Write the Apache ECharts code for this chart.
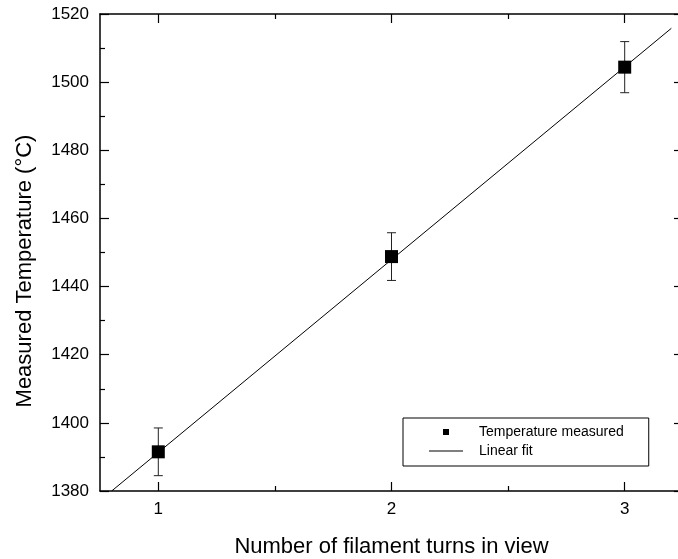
<!DOCTYPE html>
<html>
<head>
<meta charset="utf-8">
<script src="https://cdn.jsdelivr.net/npm/echarts@6/dist/echarts.min.js"></script>
<style>
  html, body { margin: 0; padding: 0; background: #fff; }
  #chart { width: 678px; height: 559px; }
</style>
</head>
<body>
<div id="chart"></div>
<script>
// data
const turns = [1, 2, 3];
const tempMeasured = [1391.5, 1448.8, 1504.4];
const tempError = [7, 7, 7.5];
const fitX = [0.8, 3.2];
const fitY = [1380, 1515.8];
const xMajorTicks = [1, 2, 3];
const xMinorTicks = [1.5, 2.5];

const font = "'Liberation Sans', Arial, sans-serif";

const chart = echarts.init(document.getElementById('chart'));

const tickLine = { color: '#000', width: 1.2 };

// x axis: main one carries labels + name, others just ticks (top side / minor)
function xAx(pos, ticks, len, withLine, withLabel) {
  return {
    type: 'value',
    position: pos,
    min: 0.75,
    max: 3.25,
    axisLine: { show: withLine, lineStyle: { color: '#000', width: 1.5 } },
    axisTick: { show: true, inside: true, length: len, customValues: ticks, lineStyle: tickLine },
    axisLabel: withLabel
      ? { customValues: ticks, color: '#000', fontSize: 17, fontFamily: font, margin: 10 }
      : { show: false },
    splitLine: { show: false }
  };
}

function yAx(pos, withLabel) {
  return {
    type: 'value',
    position: pos,
    min: 1380,
    max: 1520,
    interval: 20,
    axisLine: { show: true, lineStyle: { color: '#000', width: 1.5 } },
    axisTick: { inside: true, length: 9, lineStyle: tickLine },
    minorTick: { show: true, splitNumber: 2, length: 5, lineStyle: tickLine },
    axisLabel: withLabel
      ? { color: '#000', fontSize: 17, fontFamily: font, margin: 11, formatter: v => String(v) }
      : { show: false },
    splitLine: { show: false }
  };
}

const xMain = xAx('bottom', xMajorTicks, 9, true, true);
xMain.name = 'Number of filament turns in view';
xMain.nameLocation = 'middle';
xMain.nameGap = 45;
xMain.nameTextStyle = { color: '#000', fontSize: 22, fontFamily: font };

var option = {
  backgroundColor: '#fff',
  animation: false,
  // the right frame sits just past the picture edge
  grid: { left: 100, width: 583, top: 14, height: 477, outerBoundsMode: 'none' },
  xAxis: [
    xMain,
    xAx('bottom', xMinorTicks, 5, false, false),
    xAx('top', xMajorTicks, 9, true, false),
    xAx('top', xMinorTicks, 5, false, false)
  ],
  yAxis: [yAx('left', true), yAx('right', false)],
  legend: {
    orient: 'vertical',
    left: 403,
    top: 418,
    padding: [7, 25, 8, 26],
    borderColor: '#000',
    borderWidth: 1,
    itemWidth: 34,
    itemHeight: 6,
    itemGap: 5,
    symbolKeepAspect: true,
    textStyle: { color: '#000', fontSize: 14, fontFamily: font, padding: [0, 0, 0, 11] },
    data: [
      { name: 'Temperature measured', icon: 'path://M0 0H10V10H0Z' },
      { name: 'Linear fit', icon: 'path://M0 0H34V1.2H0Z' }
    ]
  },
  graphic: [{
    type: 'text',
    x: 25,
    y: 271,
    rotation: Math.PI / 2,
    style: {
      text: 'Measured Temperature (°C)',
      fill: '#000',
      font: '22px ' + font,
      align: 'center',
      verticalAlign: 'middle'
    }
  }],
  series: [
    {
      name: 'Error',
      type: 'custom',
      z: 2,
      data: turns.map((x, i) => [x, tempMeasured[i] - tempError[i], tempMeasured[i] + tempError[i]]),
      renderItem: function (params, api) {
        const lo = api.coord([api.value(0), api.value(1)]);
        const hi = api.coord([api.value(0), api.value(2)]);
        const w = 4.5;
        const st = { stroke: '#222', lineWidth: 1 };
        return {
          type: 'group',
          children: [
            { type: 'line', shape: { x1: lo[0], y1: lo[1], x2: hi[0], y2: hi[1] }, style: st },
            { type: 'line', shape: { x1: lo[0] - w, y1: lo[1], x2: lo[0] + w, y2: lo[1] }, style: st },
            { type: 'line', shape: { x1: hi[0] - w, y1: hi[1], x2: hi[0] + w, y2: hi[1] }, style: st }
          ]
        };
      }
    },
    {
      name: 'Linear fit',
      type: 'line',
      z: 3,
      symbol: 'none',
      data: fitX.map((x, i) => [x, fitY[i]]),
      lineStyle: { color: '#000', width: 1 },
      itemStyle: { color: '#000' }
    },
    {
      name: 'Temperature measured',
      type: 'scatter',
      z: 4,
      symbol: 'rect',
      symbolSize: 13,
      data: turns.map((x, i) => [x, tempMeasured[i]]),
      itemStyle: { color: '#000', opacity: 1 }
    }
  ]
};

chart.setOption(option);
</script>
</body>
</html>
